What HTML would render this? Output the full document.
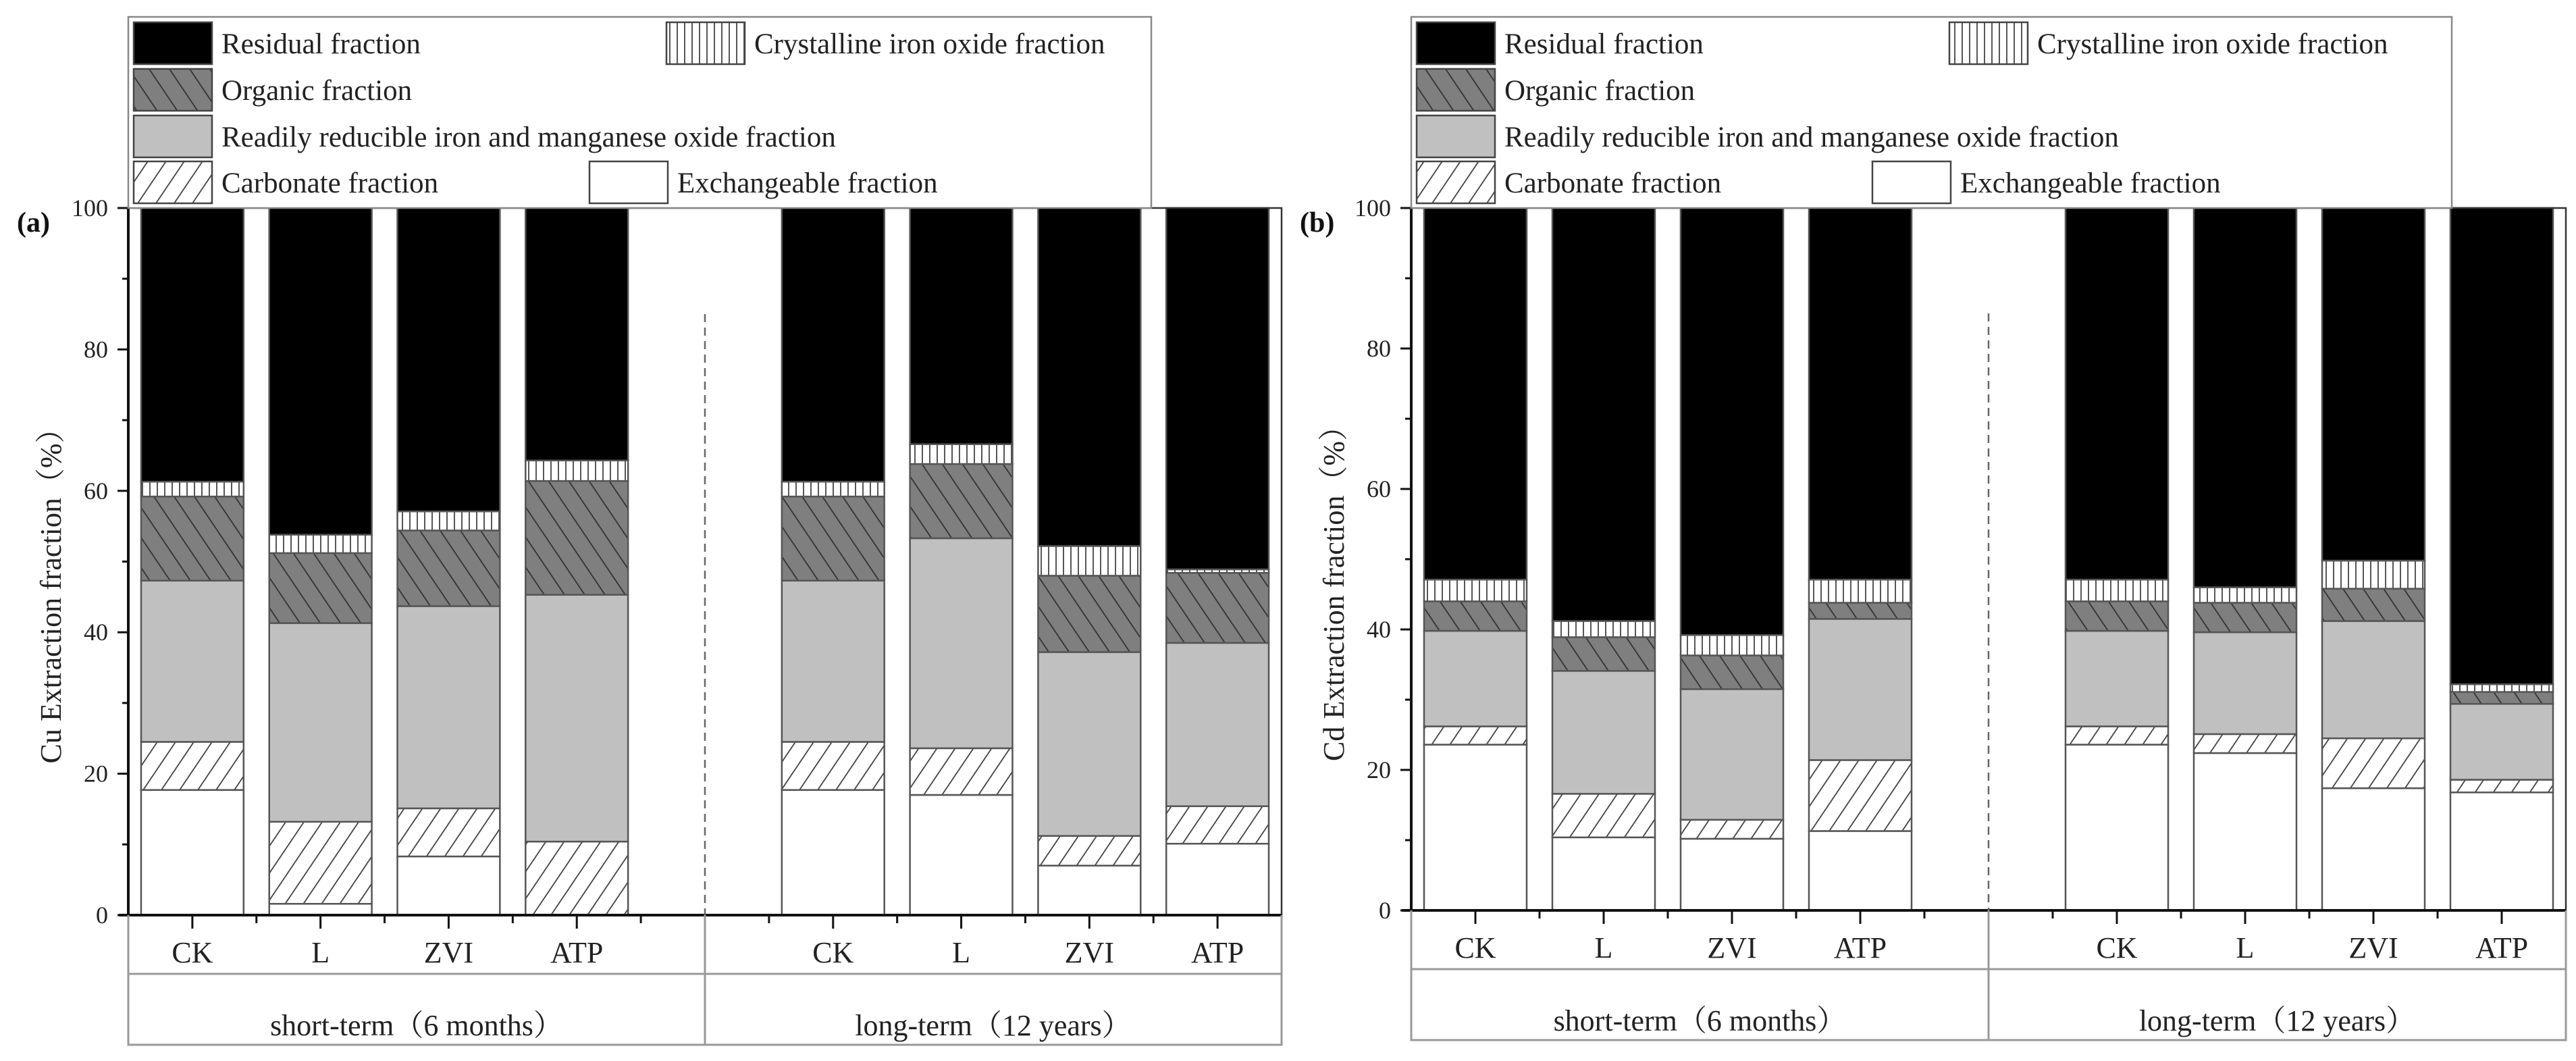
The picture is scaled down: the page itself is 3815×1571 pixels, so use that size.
<!DOCTYPE html>
<html><head><meta charset="utf-8">
<style>
html,body{margin:0;padding:0;background:#fff;}
svg{display:block;font-family:"Liberation Serif","Noto Serif CJK SC",serif;}
</style></head>
<body>
<svg id="chart" width="3815" height="1571" viewBox="0 0 3815 1571" xmlns="http://www.w3.org/2000/svg">
<defs>
<pattern id="pCarb" patternUnits="userSpaceOnUse" width="27" height="40" patternTransform="skewX(-34)">
<rect width="27" height="40" fill="#fff"/><line x1="2" y1="0" x2="2" y2="40" stroke="#444" stroke-width="2.2"/></pattern>
<pattern id="pOrg" patternUnits="userSpaceOnUse" width="30" height="40" patternTransform="skewX(34)">
<rect width="30" height="40" fill="#7f7f7f"/><line x1="2" y1="0" x2="2" y2="40" stroke="#333" stroke-width="2.2"/></pattern>
<pattern id="pCry" patternUnits="userSpaceOnUse" width="11" height="20">
<rect width="11" height="20" fill="#fff"/><line x1="2" y1="0" x2="2" y2="20" stroke="#444" stroke-width="1.8"/></pattern>
</defs>
</svg>
<script>
const categories = ["CK","L","ZVI","ATP","CK","L","ZVI","ATP"];
const positions = [1,2,3,4,6,7,8,9];
const groups = ["short-term（6 months）","long-term（12 years）"];
const yTicks = [0,20,40,60,80,100];
const fractionNames = ["Exchangeable fraction","Carbonate fraction","Readily reducible iron and manganese oxide fraction","Organic  fraction","Crystalline iron oxide fraction","Residual fraction"];
// Cu (panel a) segment values
const cuExch = [17.7,1.6,8.3,0,17.7,17.0,7.0,10.1];
const cuCarb = [6.8,11.6,6.8,10.4,6.8,6.6,4.2,5.3];
const cuRed  = [22.8,28.1,28.6,34.9,22.8,29.7,26.0,23.1];
const cuOrg  = [11.9,9.9,10.7,16.1,11.9,10.5,10.8,9.9];
const cuCry  = [2.1,2.6,2.7,2.9,2.1,2.8,4.2,0.5];
const cuRes  = [38.7,46.2,42.9,35.7,38.7,33.4,47.8,51.1];
// Cd (panel b) segment values
const cdExch = [23.6,10.4,10.2,11.3,23.6,22.4,17.4,16.8];
const cdCarb = [2.6,6.2,2.7,10.1,2.6,2.7,7.1,1.8];
const cdRed  = [13.6,17.5,18.6,20.1,13.6,14.5,16.7,10.8];
const cdOrg  = [4.2,4.8,4.8,2.3,4.2,4.2,4.6,1.7];
const cdCry  = [3.1,2.3,2.9,3.3,3.1,2.2,4.0,1.1];
const cdRes  = [52.9,58.8,60.8,52.9,52.9,54.0,50.2,67.8];

const NS = "http://www.w3.org/2000/svg";
const svg = document.getElementById("chart");
const fills = ["#ffffff","url(#pCarb)","#c0c0c0","url(#pOrg)","url(#pCry)","#000000"];
const segNames = ["exchangeable","carbonate","reducible","organic","crystalline","residual"];

function mk(tag, attrs, parent){
  const e = document.createElementNS(NS, tag);
  for (const k in attrs) e.setAttribute(k, attrs[k]);
  (parent||svg).appendChild(e);
  return e;
}

function panel(opt){
  const g = mk("g", {});
  
  
  const L = opt.x0, R = opt.x1, T = 308, B = opt.y0;
  const xs = p => L + (p - 0.5) * (R - L) / 9;
  const ys = v => B - v * (B - T) / 100;
  const bw = 0.8 * (R - L) / 9;

  // bars
  opt.series.forEach((arr, si) => {
    arr.forEach((v, i) => {
      let base = 0;
      for (let k = 0; k < si; k++) base += opt.series[k][i];
      let top = Math.min(base + v, 100);
      if (si === opt.series.length - 1) top = 100;
      const r = mk("rect", {x: xs(positions[i]) - bw/2, y: ys(top), width: bw, height: Math.max(0, ys(base) - ys(top)), fill: fills[si], stroke: "#555", "stroke-width": 2.5}, g);
      
      
    });
  });

  // frame
  const fr = mk("path", {d: `M${L} ${T}H${R}V${B}`, fill: "none", stroke: "#333", "stroke-width": 2.5}, g);
  
  
  const ya = mk("line", {x1: L, y1: T, x2: L, y2: B, stroke: "#111", "stroke-width": 4}, g);
  
  
  const xa = mk("line", {x1: L-14, y1: B, x2: R, y2: B, stroke: "#111", "stroke-width": 4}, g);
  
  

  // y ticks
  for (let v = 0; v <= 100; v += 10) {
    const major = yTicks.includes(v);
    const t = mk("line", {x1: L - (major ? 16 : 9), y1: ys(v), x2: L, y2: ys(v), stroke: "#111", "stroke-width": 3}, g);
    
    
  }
  yTicks.forEach(v => {
    const t = mk("text", {x: L - 30, y: ys(v) + 12, "text-anchor": "end", "font-size": 36, fill: "#222"}, g);
    t.textContent = v;
    
    
  });
  const yt = mk("text", {x: 0, y: 0, "text-anchor": "middle", "font-size": 44, fill: "#222", transform: `translate(${L-100},${(T+B)/2+40}) rotate(-90)`}, g);
  yt.textContent = opt.ytitle;
  
  
  const pl = mk("text", {x: L - 165, y: T + 35, "font-size": 42, "font-weight": "bold", fill: "#111"}, g);
  pl.textContent = opt.label;
  
  

  // x ticks
  for (let p = 1; p <= 9; p++) {
    const t = mk("line", {x1: xs(p), y1: B, x2: xs(p), y2: B + 20, stroke: "#111", "stroke-width": 3}, g);
    
    
    const m = mk("line", {x1: xs(p+0.5), y1: B, x2: xs(p+0.5), y2: B + 12, stroke: "#111", "stroke-width": 3}, g);
    
    
  }
  // divider dashed
  const dv = mk("line", {x1: xs(5), y1: ys(85), x2: xs(5), y2: B, stroke: "#666", "stroke-width": 2.5, "stroke-dasharray": "12 8"}, g);
  
  

  // category table
  const tb = mk("path", {d: `M${L} ${B}V${B+192}H${R}V${B}M${L} ${B+87}H${R}M${xs(5)} ${B}V${B+192}`, fill: "none", stroke: "#999", "stroke-width": 3}, g);
  
  
  categories.forEach((c, i) => {
    const t = mk("text", {x: xs(positions[i]), y: B + 70, "text-anchor": "middle", "font-size": 44, fill: "#222"}, g);
    t.textContent = c;
    
    
  });
  groups.forEach((gr, i) => {
    const cx = i === 0 ? (L + xs(5)) / 2 : (xs(5) + R) / 2;
    const t = mk("text", {x: cx, y: B + 178, "text-anchor": "middle", "font-size": 44, fill: "#222"}, g);
    t.textContent = gr;
    
    
  });

  // legend
  const lg = mk("g", {}, g);
  
  
  const lb = mk("rect", {x: L, y: 25, width: opt.legW, height: T - 25, fill: "#fff", stroke: "#888", "stroke-width": 2.5}, lg);
  
  
  const entries = [
    [5, L+8, 33, "Residual fraction"],
    [4, L+797, 33, "Crystalline iron oxide fraction"],
    [3, L+8, 102, "Organic  fraction"],
    [2, L+8, 171, "Readily reducible iron and manganese oxide fraction"],
    [1, L+8, 239, "Carbonate fraction"],
    [0, L+683, 239, "Exchangeable fraction"]
  ];
  entries.forEach(e => {
    const sw = mk("rect", {x: e[1], y: e[2], width: 116, height: 62, fill: fills[e[0]], stroke: "#444", "stroke-width": 2.5}, lg);
    
    
    const t = mk("text", {x: e[1] + 130, y: e[2] + 46, "font-size": 43, fill: "#222"}, lg);
    t.textContent = e[3];
    
    
  });
}

panel({name: "panel-a-cu", label: "(a)", ytitle: "Cu Extraction fraction（%）", x0: 190, x1: 1898, y0: 1355, legW: 1515,
  series: [cuExch, cuCarb, cuRed, cuOrg, cuCry, cuRes]});
panel({name: "panel-b-cd", label: "(b)", ytitle: "Cd Extraction fraction（%）", x0: 2090, x1: 3800, y0: 1348, legW: 1541,
  series: [cdExch, cdCarb, cdRed, cdOrg, cdCry, cdRes]});
</script>
</body></html>
